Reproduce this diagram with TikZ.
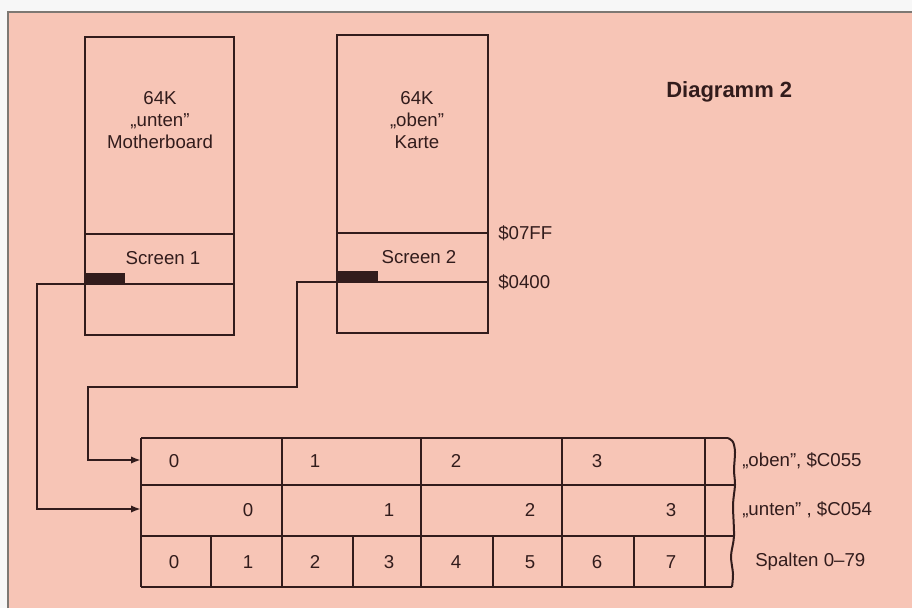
\documentclass[tikz,border=0pt]{standalone}
\usepackage{fontspec}
\setmainfont{Liberation Sans}
\usetikzlibrary{arrows.meta}
\definecolor{paper}{RGB}{247,197,182}
\definecolor{ink}{RGB}{50,28,28}
\definecolor{rim}{RGB}{125,120,115}
\tikzset{
  wire/.style={draw=ink, line width=1.5pt},
  feed/.style={wire, -{Latex[length=7.5pt,width=5.5pt]}},
  lbl/.style={font=\fontsize{14}{16.5}\selectfont, text=ink, inner sep=0pt},
  bar/.style={fill=ink, draw=none, inner sep=0pt, minimum height=8.25pt, anchor=south west},
}
\begin{document}
\begin{tikzpicture}[x=0.75pt, y=-0.75pt]
    \useasboundingbox (0,0) rectangle (912,608);
    \fill[white!94!gray] (0,0) rectangle (912,608);
    \fill[paper] (8,12) rectangle (912,608);
    \draw[rim, line width=1.5pt] (8,608) -- (8,12) -- (912,12);
    % the two 64K banks
    \draw[wire] (85,37) rectangle (234,335);
    \draw[wire] (85,234) -- (234,234) (85,284) -- (234,284);
    \draw[wire] (337,35) rectangle (488,333);
    \draw[wire] (337,233) -- (488,233) (337,282) -- (488,282);
    \node[lbl, align=center] (mb) at (160,120) {64K\\„unten”\\Motherboard};
    \node[lbl, align=center] (kt) at (417,120) {64K\\„oben”\\Karte};
    \node[lbl] (scr1) at (163,258) {Screen 1};
    \node[lbl] (scr2) at (419,257) {Screen 2};
    \node[lbl, anchor=west] (hi) at (498,233) {\$07FF};
    \node[lbl, anchor=west] (lo) at (498,282) {\$0400};
    \node[bar, minimum width=30pt] (bar1) at (85,284) {};
    \node[bar, minimum width=30.75pt] (bar2) at (337,282) {};
    \node[lbl, font=\fontsize{16.5}{19}\bfseries, anchor=west] (title) at (666,92) {Diagramm 2};
    % 80-column line
    \draw[wire] (141,438) -- (728,438) (141,485) -- (735,485)
                (141,536) -- (734,536) (141,587) -- (732,587) (141,438) -- (141,587);
    \draw[wire] plot[smooth] coordinates {(728,438) (733,442) (735,452) (734,470) (735,485)
                (733,505) (734,536) (731,556) (733,574) (732,587)};
    \foreach \x in {282,421,562,705} \draw[wire] (\x,438) -- (\x,587);
    \foreach \x in {211,353,493,634} \draw[wire] (\x,536) -- (\x,587);
    \foreach \k in {0,...,3} {
      \pgfmathtruncatemacro{\e}{2*\k}
      \pgfmathtruncatemacro{\o}{2*\k+1}
      \node[lbl] (o\k) at (174+141*\k,461) {\k};
      \node[lbl] (u\k) at (248+141*\k,510) {\k};
      \node[lbl] (s\e) at (174+141*\k,562) {\e};
      \node[lbl] (s\o) at (248+141*\k,562) {\o};
    }
    \node[lbl, anchor=west] (ob) at (742,461) {„oben”, \$C055};
    \node[lbl, anchor=west] (un) at (742,510) {„unten” , \$C054};
    \node[lbl, anchor=west] (sp) at (755,562) {Spalten 0–79};
    \coordinate (oben) at (141,460);
    \coordinate (unten) at (141,509);
    % screen pointers into the line
    \draw[feed] (bar1.south west) -- ++(-48,0) |- (unten);
    \draw[feed] (bar2.south west) -- ++(-40,0) |- (88,387) |- (oben);
\end{tikzpicture}
\end{document}
